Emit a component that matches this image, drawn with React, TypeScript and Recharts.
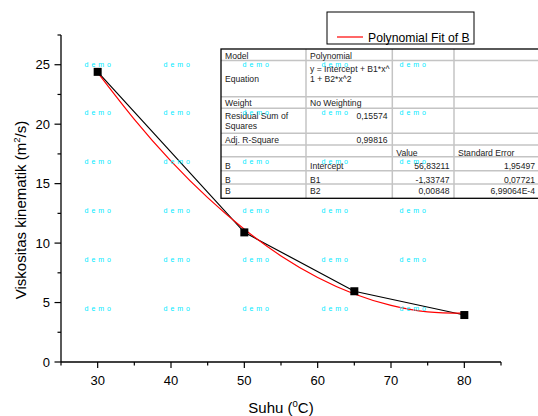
import React from 'react';
import { ComposedChart, Line, Scatter, XAxis, YAxis } from 'recharts';

const temps = [30, 50, 65, 80];
const viscosity = [24.4, 10.9, 5.95, 3.95];
const fitTemps = [30, 35, 40, 45, 50, 55, 60, 65, 70, 75, 80];
const fitValues = [24.34, 20.41, 16.9, 13.82, 11.16, 8.92, 7.11, 5.72, 4.76, 4.22, 4.11];
const xTicks = [25, 30, 35, 40, 45, 50, 55, 60, 65, 70, 75, 80, 85];
const xLabels = [30, 40, 50, 60, 70, 80];
const yTicks = [0, 2.5, 5, 7.5, 10, 12.5, 15, 17.5, 20, 22.5, 25, 27.5];
const yLabels = [0, 5, 10, 15, 20, 25];

const tableRows = [
  ['Model', 'Polynomial', '', ''],
  ['Equation', 'y = Intercept + B1*x^|1 + B2*x^2', '', ''],
  ['Weight', 'No Weighting', '', ''],
  ['Residual Sum of|Squares', '0,15574', '', ''],
  ['Adj. R-Square', '0,99816', '', ''],
  ['', '', 'Value', 'Standard Error'],
  ['B', 'Intercept', '56,83211', '1,95497'],
  ['B', 'B1', '-1,33747', '0,07721'],
  ['B', 'B2', '0,00848', '6,99064E-4'],
];

const FONT = '"Liberation Sans", Arial, sans-serif';

const pointData = temps.map((t, i) => ({ x: t, y: viscosity[i] }));
const fitData = fitTemps.map((t, i) => ({ x: t, y: fitValues[i] }));

const XTick = (props: any) => {
  const { x, y, payload } = props;
  const major = xLabels.includes(payload.value);
  return (
    <g>
      <line x1={x} x2={x} y1={y} y2={y + (major ? 6 : 3.5)} stroke="#000" strokeWidth={1.2} />
      {major && (
        <text x={x} y={y + 23} textAnchor="middle" fontSize={13} fontFamily={FONT} fill="#000">
          {payload.value}
        </text>
      )}
    </g>
  );
};

const YTick = (props: any) => {
  const { x, y, payload } = props;
  const major = yLabels.includes(payload.value);
  return (
    <g>
      <line x1={x} x2={x - (major ? 6.5 : 3.5)} y1={y} y2={y} stroke="#000" strokeWidth={1.2} />
      {major && (
        <text x={x - 11} y={y + 4.7} textAnchor="end" fontSize={13} fontFamily={FONT} fill="#000">
          {payload.value}
        </text>
      )}
    </g>
  );
};

const SquareShape = (props: any) => {
  const { cx, cy } = props;
  return <rect x={cx - 4} y={cy - 4} width={8} height={8} fill="#000" />;
};

const rowLines = [49, 60.5, 96.7, 108.3, 133.3, 145, 156.7, 170.7, 184, 198.3];
const colLines = [221, 306, 392.3, 454, 539];

const Overlay = () => {
  const demoX = [98, 177, 256, 335, 413];
  const demoY = [65, 113, 162, 211, 260, 309];
  const textRows = [
    [58.5],
    [72, 81.5],
    [106],
    [119, 129],
    [142.5],
    [155.5],
    [169],
    [182.5],
    [194],
  ];
  const cells: any[] = [];
  tableRows.forEach((row, ri) => {
    row.forEach((cell, ci) => {
      if (!cell) return;
      const lines = cell.split('|');
      let ys: number[];
      if (ri === 1 && ci === 0) ys = [82];
      else if (ri === 3 && ci === 1) ys = [119];
      else if (lines.length === 1 && textRows[ri].length > 1) ys = [textRows[ri][0]];
      else ys = textRows[ri];
      const rightAligned = ((ri === 3 || ri === 4) && ci === 1) || (ri >= 6 && ci >= 2);
      let x = colLines[ci] + 4;
      if (rightAligned) x = ci === 1 ? 387.5 : ci === 2 ? 449.5 : 535;
      lines.forEach((ln, li) => {
        cells.push(
          <text
            key={`${ri}-${ci}-${li}`}
            x={x}
            y={ys[li]}
            textAnchor={rightAligned ? 'end' : 'start'}
            fontSize={8.6}
            fontFamily={FONT}
            fill="#222"
          >
            {ln}
          </text>
        );
      });
    });
  });
  return (
    <svg
      width={538}
      height={416}
      style={{ position: 'absolute', left: 0, top: 0, pointerEvents: 'none' }}
    >
      {/* legend */}
      <rect x={327} y={12} width={147} height={32} fill="#fff" stroke="#000" strokeWidth={1} />
      <line x1={337} x2={363} y1={37} y2={37} stroke="#ff0000" strokeWidth={1.2} />
      <text x={368} y={41.5} fontSize={12.2} fontFamily={FONT} fill="#000">
        Polynomial Fit of B
      </text>
      {/* table */}
      <rect x={221} y={49} width={318} height={149.3} fill="#fff" />
      {rowLines.slice(1, -1).map((y) => (
        <line key={`r${y}`} x1={221} x2={539} y1={y} y2={y} stroke="#c4c4c4" strokeWidth={1.5} />
      ))}
      {colLines.slice(1, -1).map((x) => (
        <line key={`c${x}`} x1={x} x2={x} y1={49} y2={198.3} stroke="#c4c4c4" strokeWidth={1.5} />
      ))}
      <rect x={221} y={49} width={318} height={149.3} fill="none" stroke="#000" strokeWidth={1.3} />
      {cells}
      {/* watermark */}
      {demoY.map((y) =>
        demoX.map((x) => (
          <text
            key={`d${x}-${y}`}
            x={x}
            y={y + 2.2}
            textAnchor="middle"
            fontSize={7}
            letterSpacing={0.5}
            fontFamily={FONT}
            fill="#00eaff"
          >
            d e m o
          </text>
        ))
      )}
      {/* axis titles */}
      <text
        transform="translate(25.5,210) rotate(-90)"
        textAnchor="middle"
        fontSize={15}
        fontFamily={FONT}
        fill="#000"
      >
        Viskositas kinematik (m
        <tspan dy={-6} fontSize={9.5}>2</tspan>
        <tspan dy={6}>/s)</tspan>
      </text>
      <text x={281} y={413} textAnchor="middle" fontSize={15} fontFamily={FONT} fill="#000">
        Suhu (
        <tspan dy={-6} fontSize={9.5}>0</tspan>
        <tspan dy={6}>C)</tspan>
      </text>
    </svg>
  );
};

export default function App() {
  return (
    <div style={{ position: 'absolute', left: 0, top: 0, width: 538, height: 416, background: '#fff' }}>
      <ComposedChart
        width={538}
        height={416}
        margin={{ top: 35, right: 37, bottom: 0, left: 0 }}
      >
        <XAxis
          dataKey="x"
          type="number"
          domain={[25, 85]}
          ticks={xTicks}
          interval={0}
          height={54}
          tickSize={0}
          tickMargin={0}
          tickLine={false}
          tick={<XTick />}
          axisLine={{ stroke: '#000', strokeWidth: 1.3 }}
          allowDataOverflow
        />
        <YAxis
          dataKey="y"
          type="number"
          domain={[0, 27.5]}
          ticks={yTicks}
          interval={0}
          width={61}
          tickSize={0}
          tickMargin={0}
          tickLine={false}
          tick={<YTick />}
          axisLine={{ stroke: '#000', strokeWidth: 1.3 }}
          allowDataOverflow
        />
        <Line
          data={pointData}
          dataKey="y"
          type="linear"
          stroke="#000"
          strokeWidth={1.2}
          dot={false}
          isAnimationActive={false}
        />
        <Line
          data={fitData}
          dataKey="y"
          type="natural"
          stroke="#ff0000"
          strokeWidth={1.2}
          dot={false}
          isAnimationActive={false}
        />
        <Scatter
          data={pointData}
          dataKey="y"
          shape={<SquareShape />}
          isAnimationActive={false}
        />
      </ComposedChart>
      <Overlay />
    </div>
  );
}
